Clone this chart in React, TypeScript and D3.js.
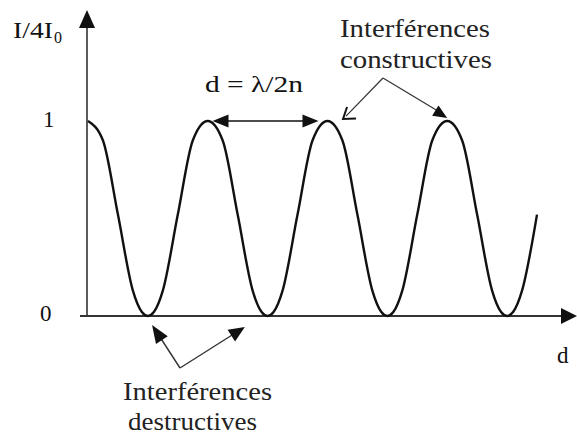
import React from "react";
import * as d3 from "d3";

// path difference d, in units of lambda/2n
const dValues = [
  0, 0.125, 0.25, 0.375, 0.45, 0.5, 0.55, 0.625, 0.75, 0.875,
  1, 1.125, 1.25, 1.375, 1.45, 1.5, 1.55, 1.625, 1.75, 1.875,
  2, 2.125, 2.25, 2.375, 2.45, 2.5, 2.55, 2.625, 2.75, 2.875,
  3, 3.125, 3.25, 3.375, 3.45, 3.5, 3.55, 3.625, 3.75,
];
// normalised intensity I/4I0 at each d
const intensity = [
  1, 0.9, 0.52, 0.13, 0.02, 0, 0.02, 0.13, 0.52, 0.9,
  1, 0.9, 0.52, 0.13, 0.02, 0, 0.02, 0.13, 0.52, 0.9,
  1, 0.9, 0.52, 0.13, 0.02, 0, 0.02, 0.13, 0.52, 0.9,
  1, 0.9, 0.52, 0.13, 0.02, 0, 0.02, 0.13, 0.52,
];
const yTicks = [0, 1];

const W = 577;
const H = 436;
const serif = "Liberation Serif, serif";

export default function App() {
  const x = d3.scaleLinear().domain([0, 3.75]).range([88, 537]);
  const y = d3.scaleLinear().domain([0, 1]).range([316, 121]);

  const pts: [number, number][] = dValues.map((d, i) => [x(d), y(intensity[i])]);
  const curve = d3.line().curve(d3.curveMonotoneX)(pts) || "";

  const axisColor = "#333";
  const ink = "#111";
  const txt = { fontFamily: serif };

  // arrowhead as a filled triangle, tip at (tx,ty), coming from (fx,fy)
  const head = (fx: number, fy: number, tx: number, ty: number, len: number, half: number) => {
    const a = Math.atan2(ty - fy, tx - fx);
    const bx = tx - len * Math.cos(a);
    const by = ty - len * Math.sin(a);
    const px = -Math.sin(a) * half;
    const py = Math.cos(a) * half;
    return `M${tx},${ty}L${bx + px},${by + py}L${bx - px},${by - py}Z`;
  };

  const x0 = x(0) - 1;
  const yBase = y(0);
  const yTop = 10;
  const xEnd = W;

  // annotation anchors
  const dArrowL = x(1.04);
  const dArrowR = x(1.925);
  const cFrom: [number, number] = [383, 78];
  const cTip1: [number, number] = [x(2.13), y(1.01)];
  const cTip2: [number, number] = [x(3.0), y(1.015)];
  const dFrom: [number, number] = [180, 368];
  const dTip1: [number, number] = [x(0.535), yBase + 9];
  const dTip2: [number, number] = [x(1.31), yBase + 11];

  return (
    <svg
      width={W}
      height={H}
      viewBox={`0 0 ${W} ${H}`}
      style={{ position: "absolute", left: 0, top: 0, background: "#fff" }}
    >
      {/* axes */}
      <line x1={x0} y1={yBase} x2={x0} y2={yTop + 16} stroke={axisColor} strokeWidth={1.6} />
      <path d={head(x0, yBase, x0, yTop, 18, 8)} fill={ink} />
      <line x1={80} y1={yBase} x2={xEnd - 14} y2={yBase} stroke={axisColor} strokeWidth={1.8} />
      <path d={head(80, yBase, xEnd, yBase, 16, 8)} fill={ink} />

      {/* tick labels */}
      {yTicks.map((t) => (
        <text key={t} x={t === 0 ? 40 : 43} y={y(t) + (t === 0 ? 5 : 6)} style={txt} fontSize={23} fill={ink}>
          {t}
        </text>
      ))}

      {/* axis titles */}
      <text x={13} y={38} style={txt} fontSize={23} fill={ink} textLength={40} lengthAdjust="spacingAndGlyphs">
        I/4I
      </text>
      <text x={54} y={43} style={txt} fontSize={16} fill={ink}>
        0
      </text>
      <text x={557} y={363} style={txt} fontSize={23} fill={ink}>
        d
      </text>

      {/* interference curve */}
      <path d={curve} fill="none" stroke={ink} strokeWidth={2.4} strokeLinejoin="round" />

      {/* period annotation */}
      <line x1={dArrowL + 10} y1={y(1)} x2={dArrowR - 10} y2={y(1)} stroke={ink} strokeWidth={1.6} />
      <path d={head(dArrowR, y(1), dArrowL, y(1), 16, 6.5)} fill={ink} />
      <path d={head(dArrowL, y(1), dArrowR, y(1), 16, 6.5)} fill={ink} />
      <text x={205} y={92} style={txt} fontSize={23} fill={ink} textLength={98} lengthAdjust="spacingAndGlyphs">
        d = λ/2n
      </text>

      {/* constructive annotation */}
      <text x={340} y={37} style={txt} fontSize={25} fill="#222" textLength={150} lengthAdjust="spacingAndGlyphs">
        Interférences
      </text>
      <text x={340} y={68} style={txt} fontSize={25} fill="#222" textLength={152} lengthAdjust="spacingAndGlyphs">
        constructives
      </text>
      <line x1={cFrom[0]} y1={cFrom[1]} x2={cTip1[0] + 3} y2={cTip1[1] - 3} stroke="#333" strokeWidth={1.2} />
      <path
        d={`M${cTip1[0] + 13},${cTip1[1] - 0.5}L${cTip1[0]},${cTip1[1]}L${cTip1[0] + 4},${cTip1[1] - 12}`}
        fill="none"
        stroke={ink}
        strokeWidth={2}
      />
      <line x1={cFrom[0]} y1={cFrom[1]} x2={cTip2[0] - 6} y2={cTip2[1] - 5} stroke="#333" strokeWidth={1.2} />
      <path d={head(cFrom[0], cFrom[1], cTip2[0], cTip2[1], 14, 6)} fill={ink} />

      {/* destructive annotation */}
      <line x1={dFrom[0]} y1={dFrom[1]} x2={dTip1[0] + 4} y2={dTip1[1] + 6} stroke="#333" strokeWidth={1.4} />
      <path d={head(dFrom[0], dFrom[1], dTip1[0], dTip1[1], 18, 7)} fill={ink} />
      <line x1={dFrom[0]} y1={dFrom[1]} x2={dTip2[0] - 8} y2={dTip2[1] + 5} stroke="#333" strokeWidth={1.4} />
      <path d={head(dFrom[0], dFrom[1], dTip2[0], dTip2[1], 16, 7)} fill={ink} />
      <text x={123} y={400} style={txt} fontSize={25} fill="#222" textLength={149} lengthAdjust="spacingAndGlyphs">
        Interférences
      </text>
      <text x={128} y={430} style={txt} fontSize={25} fill="#222" textLength={129} lengthAdjust="spacingAndGlyphs">
        destructives
      </text>
    </svg>
  );
}
